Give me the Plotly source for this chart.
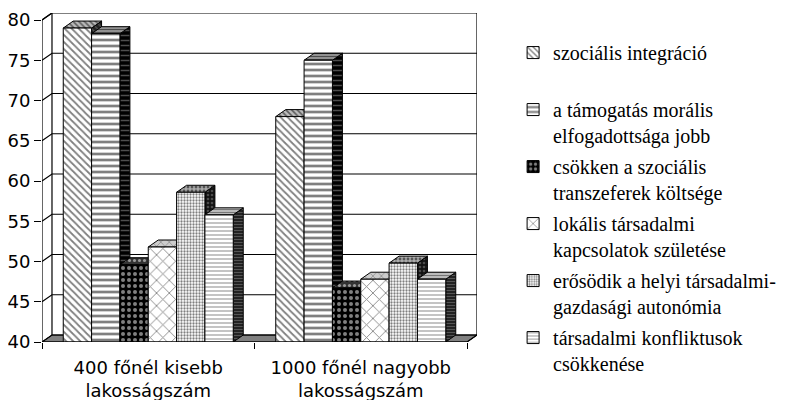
import plotly.graph_objects as go

# ---------------- data ----------------
categories = ["400 főnél kisebb<br>lakosságszám", "1000 főnél nagyobb<br>lakosságszám"]
series_names = [
    "szociális integráció<br> ",
    "a támogatás morális<br>elfogadottsága jobb",
    "csökken a szociális<br>transzeferek költsége",
    "lokális társadalmi<br>kapcsolatok születése",
    "erősödik a helyi társadalmi-<br>gazdasági autonómia",
    "társadalmi konfliktusok<br>csökkenése",
]
szocialis_integracio = [79, 68]
tamogatas_moralis = [78.3, 75]
csokken_koltseg = [49.6, 46.7]
lokalis_kapcsolatok = [51.8, 47.8]
erosodik_autonomia = [58.6, 49.8]
konfliktus_csokken = [55.8, 47.8]
y_ticks = [40, 45, 50, 55, 60, 65, 70, 75, 80]

series_values = [szocialis_integracio, tamogatas_moralis, csokken_koltseg,
                 lokalis_kapcsolatok, erosodik_autonomia, konfliktus_csokken]

# ---------------- style ----------------
front_patterns = [
    dict(shape="\\", fgcolor="black", bgcolor="white", size=5, solidity=0.35),
    dict(shape="-", fgcolor="black", bgcolor="white", size=6, solidity=0.45),
    dict(shape=".", fgcolor="white", bgcolor="black", size=6, solidity=0.35),
    dict(shape="x", fgcolor="black", bgcolor="white", size=9, solidity=0.18),
    dict(shape=".", fgcolor="black", bgcolor="white", size=3, solidity=0.45),
    dict(shape="-", fgcolor="#555555", bgcolor="white", size=4, solidity=0.35),
]
top_patterns = [
    dict(shape="\\", fgcolor="black", bgcolor="#bbbbbb", size=4, solidity=0.4),
    dict(shape="-", fgcolor="black", bgcolor="#999999", size=3, solidity=0.4),
    dict(shape=".", fgcolor="white", bgcolor="#333333", size=5, solidity=0.3),
    dict(shape="x", fgcolor="black", bgcolor="#cccccc", size=6, solidity=0.15),
    dict(shape=".", fgcolor="black", bgcolor="#aaaaaa", size=4, solidity=0.4),
    dict(shape="-", fgcolor="#333333", bgcolor="#bbbbbb", size=3, solidity=0.35),
]
side_patterns = [
    dict(shape="\\", fgcolor="#888888", bgcolor="#222222", size=4, solidity=0.3),
    dict(shape="-", fgcolor="#999999", bgcolor="black", size=5, solidity=0.3),
    dict(shape=".", fgcolor="#777777", bgcolor="black", size=5, solidity=0.3),
    dict(shape="x", fgcolor="#888888", bgcolor="#222222", size=6, solidity=0.2),
    dict(shape=".", fgcolor="#888888", bgcolor="#111111", size=4, solidity=0.35),
    dict(shape="-", fgcolor="#888888", bgcolor="#222222", size=3, solidity=0.35),
]

DX = 0.047   # depth offset in category units
DY = 0.87    # depth offset in value units
Y0 = 40
YMAX = 80
N = len(series_values)
GROUP_W = 0.8
BW = GROUP_W / N
XR = [-0.5, 1.5 + DX]
YR = [Y0, YMAX + DY]
FONT_AX = "DejaVu Sans"
FONT_LEG = "Liberation Serif"

fig = go.Figure()

# floor
fig.add_trace(go.Scatter(
    x=[-0.5, 1.5, 1.5 + DX, -0.5 + DX, -0.5],
    y=[Y0, Y0, Y0 + DY, Y0 + DY, Y0],
    fill="toself", fillcolor="#808080", mode="lines",
    line=dict(color="black", width=1), showlegend=False, hoverinfo="skip"))

# back wall + side wall gridlines
gx, gy = [], []
for v in y_ticks:
    gx += [-0.5, -0.5 + DX, 1.5 + DX, None]
    gy += [v, v + DY, v + DY, None]
gx += [-0.5 + DX, -0.5 + DX, None, 1.5 + DX, 1.5 + DX, None]
gy += [Y0 + DY, YMAX + DY, None, Y0 + DY, YMAX + DY, None]
fig.add_trace(go.Scatter(x=gx, y=gy, mode="lines",
                         line=dict(color="black", width=1.2),
                         showlegend=False, hoverinfo="skip"))

# depth faces (side + top), computed from the values
for i, vals in enumerate(series_values):
    for c, v in enumerate(vals):
        xl = c - GROUP_W / 2 + i * BW
        xr = xl + BW
        fig.add_trace(go.Scatter(
            x=[xr, xr + DX, xr + DX, xr, xr],
            y=[Y0, Y0 + DY, v + DY, v, Y0],
            fill="toself", mode="lines", line=dict(color="black", width=1),
            fillcolor=side_patterns[i]["bgcolor"], fillpattern=side_patterns[i],
            showlegend=False, hoverinfo="skip"))
        fig.add_trace(go.Scatter(
            x=[xl, xl + DX, xr + DX, xr, xl],
            y=[v, v + DY, v + DY, v, v],
            fill="toself", mode="lines", line=dict(color="black", width=1),
            fillcolor=top_patterns[i]["bgcolor"], fillpattern=top_patterns[i],
            showlegend=False, hoverinfo="skip"))

# front faces as bars on overlay axes
for i, vals in enumerate(series_values):
    fig.add_trace(go.Bar(
        x=[0, 1], y=[v - Y0 for v in vals], base=Y0, name=series_names[i],
        legendgroup=f"g{i}",
        marker=dict(color=front_patterns[i]["bgcolor"], pattern=front_patterns[i],
                    line=dict(color="black", width=1)),
        xaxis="x2", yaxis="y2"))

# front frame lines (on top)
fig.add_trace(go.Scatter(
    x=[-0.5, -0.5, None, -0.5, 1.5, 1.5 + DX, None, -0.5, -0.5 + DX],
    y=[YMAX, Y0, None, Y0, Y0, Y0 + DY, None, YMAX, YMAX + DY],
    mode="lines", line=dict(color="black", width=1.2),
    showlegend=False, hoverinfo="skip", xaxis="x2", yaxis="y2"))

fig.update_layout(
    width=783, height=392,
    margin=dict(l=34, r=314, t=5, b=58, autoexpand=False),
    paper_bgcolor="white", plot_bgcolor="white",
    barmode="group", bargap=0.2, bargroupgap=0,
    showlegend=True,
    legend=dict(
        x=1.083, y=0.939, xanchor="left", yanchor="top",
        font=dict(family=FONT_LEG, size=20, color="black"),
        valign="top", tracegroupgap=2, itemwidth=30,
        bgcolor="rgba(0,0,0,0)", maxheight=385,
    ),
    xaxis=dict(range=XR, tickvals=[0, 1], ticktext=categories,
               ticks="outside", ticklen=9, tickcolor="rgba(0,0,0,0)",
               showgrid=False, zeroline=False, showline=False, automargin=False,
               tickfont=dict(family=FONT_AX, size=18, color="black")),
    yaxis=dict(range=YR, tickvals=y_ticks, ticks="outside", ticklen=7,
               tickcolor="black", tickwidth=1.2, showgrid=False,
               zeroline=False, showline=False, automargin=False,
               tickfont=dict(family=FONT_AX, size=18, color="black")),
    xaxis2=dict(range=XR, overlaying="x", anchor="y2", side="bottom",
                tickvals=[-0.5, 0.5, 1.5], ticks="outside", ticklen=6,
                tickcolor="black", tickwidth=1.2, showticklabels=False,
                showgrid=False, zeroline=False, showline=False, automargin=False),
    yaxis2=dict(range=YR, overlaying="y", visible=False, automargin=False),
)

fig.write_html("out.html")
